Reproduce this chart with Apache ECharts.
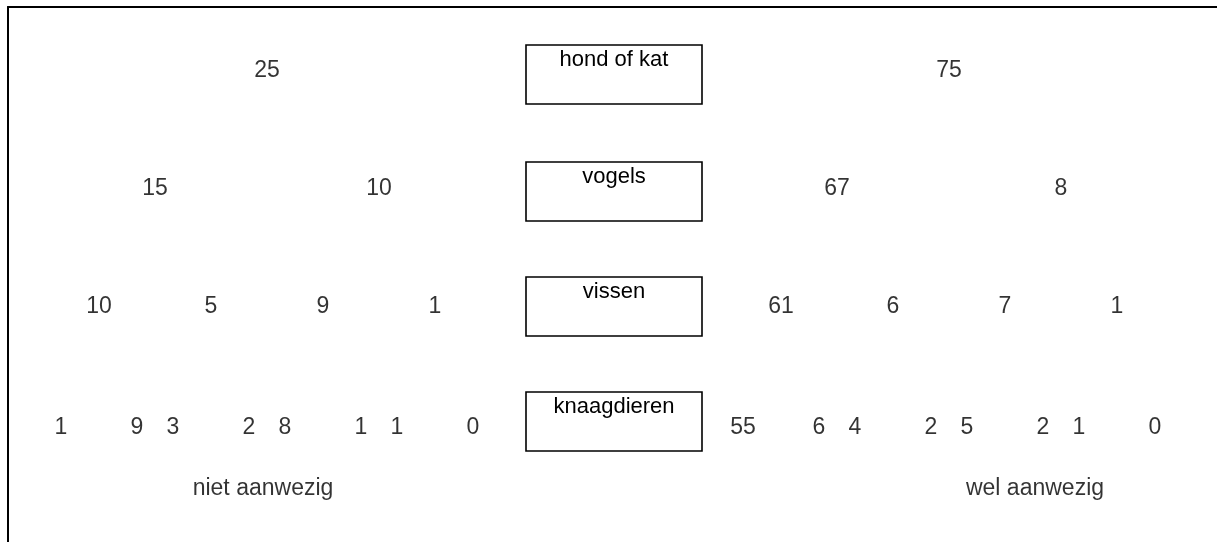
<!DOCTYPE html>
<html>
<head>
<meta charset="utf-8">
<script src="https://cdn.jsdelivr.net/npm/echarts@6/dist/echarts.min.js"></script>
<style>
  html, body { margin: 0; padding: 0; background: #fff; }
  #chart { width: 1217px; height: 542px; }
</style>
</head>
<body>
<div id="chart"></div>
<script>
// huisdieren (per niveau) en aantallen per tak
const animals = ['hond of kat', 'vogels', 'vissen', 'knaagdieren'];
const nietAanwezig = [
    [25],
    [15, 10],
    [10, 5, 9, 1],
    [1, 9, 3, 2, 8, 1, 1, 0]
];
const welAanwezig = [
    [75],
    [67, 8],
    [61, 6, 7, 1],
    [55, 6, 4, 2, 5, 2, 1, 0]
];
const sideLabels = ['niet aanwezig', 'wel aanwezig'];

// layout (page pixels, the axes are set up 1:1 with the canvas)
const rowY = [71, 189, 307, 428];
const boxTop = [45, 162, 277, 392];
const boxH = 59;
const boxX = [526, 702];
const rootX = [267, 949];
const spread = [112, 56, 38];
const sideLabelY = 489;
const sideLabelX = [263, 1035];

const font = 'Liberation Sans, Arial, sans-serif';

// spread each side out as a binary tree
function treeX(root) {
    let levels = [[root]];
    for (let k = 1; k < rowY.length; k++) {
        let prev = levels[k - 1];
        let next = [];
        prev.forEach(x => {
            next.push(x - spread[k - 1]);
            next.push(x + spread[k - 1]);
        });
        levels.push(next);
    }
    return levels;
}

let numberData = [];
[nietAanwezig, welAanwezig].forEach((side, s) => {
    let xs = treeX(rootX[s]);
    side.forEach((row, k) => {
        row.forEach((v, i) => {
            numberData.push([xs[k][i], rowY[k], v]);
        });
    });
});

let boxData = animals.map((name, k) => [boxX[0], boxTop[k], boxX[1], boxTop[k] + boxH, name]);
let sideData = sideLabels.map((name, s) => [sideLabelX[s], sideLabelY, name]);

const chart = echarts.init(document.getElementById('chart'));

const option = {
    animation: false,
    backgroundColor: '#fff',
    grid: { left: 8, right: 0, top: 7, bottom: 0 },
    xAxis: {
        type: 'value',
        min: 8,
        max: 1217,
        position: 'top',
        axisLine: { show: true, onZero: false, lineStyle: { color: '#000', width: 2 } },
        axisTick: { show: false },
        axisLabel: { show: false },
        splitLine: { show: false }
    },
    yAxis: {
        type: 'value',
        min: 7,
        max: 542,
        inverse: true,
        position: 'left',
        axisLine: { show: true, onZero: false, lineStyle: { color: '#000', width: 2 } },
        axisTick: { show: false },
        axisLabel: { show: false },
        splitLine: { show: false }
    },
    series: [
        {
            type: 'custom',
            name: 'dieren',
            data: boxData,
            renderItem: function (params, api) {
                let p0 = api.coord([api.value(0), api.value(1)]);
                let p1 = api.coord([api.value(2), api.value(3)]);
                let name = animals[params.dataIndex];
                return {
                    type: 'group',
                    children: [
                        {
                            type: 'rect',
                            shape: { x: p0[0], y: p0[1], width: p1[0] - p0[0], height: p1[1] - p0[1] },
                            style: { fill: '#fff', stroke: '#000', lineWidth: 1.6 }
                        },
                        {
                            type: 'text',
                            x: (p0[0] + p1[0]) / 2,
                            y: p0[1] + 4,
                            style: {
                                text: name,
                                fill: '#000',
                                font: '22px ' + font,
                                align: 'center',
                                verticalAlign: 'top'
                            }
                        }
                    ]
                };
            }
        },
        {
            type: 'scatter',
            name: 'aantallen',
            data: numberData,
            symbolSize: 0,
            label: {
                show: true,
                position: 'inside',
                formatter: p => String(p.value[2]),
                color: '#000',
                fontSize: 23,
                fontFamily: font
            }
        },
        {
            type: 'scatter',
            name: 'zijden',
            data: sideData,
            symbolSize: 0,
            label: {
                show: true,
                position: 'inside',
                formatter: p => p.value[2],
                color: '#000',
                fontSize: 23,
                fontFamily: font
            }
        }
    ]
};
chart.setOption(option);
</script>
</body>
</html>
